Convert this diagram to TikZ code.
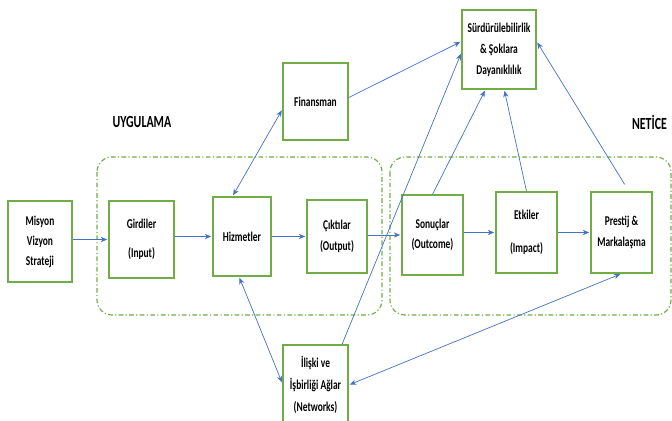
\documentclass[tikz,border=0pt]{standalone}
\usepackage{fontspec}
\setmainfont{Carlito}[FakeStretch=0.7]
\usetikzlibrary{arrows.meta,calc}

\definecolor{kutuyesil}{RGB}{112,173,71}
\definecolor{okmavi}{RGB}{68,114,196}

\tikzset{
  kutu/.style={draw=kutuyesil, line width=1.1pt, fill=white, align=center, inner sep=0pt,
    font=\fontsize{11.5}{17}\selectfont\bfseries},
  ok/.style={draw=okmavi, line width=0.6pt, -{Stealth[length=5.5pt,width=4.5pt]}, shorten >=1pt},
  ciftok/.style={draw=okmavi, line width=0.6pt, {Stealth[length=5.5pt,width=4.5pt]}-{Stealth[length=5.5pt,width=4.5pt]}, shorten >=1pt, shorten <=1pt},
  bolge/.style={draw=kutuyesil, line width=1pt, rounded corners=0.45cm,
    dash pattern=on 4pt off 2pt on 1pt off 2pt},
  baslik/.style={font=\fontsize{14.5}{16}\selectfont\bfseries}
}

\begin{document}
\begin{tikzpicture}[x=0.03cm,y=-0.03cm]
  \useasboundingbox (0,0) rectangle (672,420);

  % Regions
  \draw[bolge] (97,157) rectangle (382,315);
  \draw[bolge] (390,157) rectangle (671,315);
  \node[baslik] (uygulama) at (142,122) {UYGULAMA};
  \node[baslik, anchor=east] (netice) at (671,122) {NETİCE};

  % Boxes
  \node[kutu, minimum width=1.92cm, minimum height=2.43cm] (misyon) at (40,241.5) {Misyon\\Vizyon\\Strateji};
  \node[kutu, minimum width=1.95cm, minimum height=2.31cm] (girdiler) at (141.5,239.5) {Girdiler\\[8pt](Input)};
  \node[kutu, minimum width=1.74cm, minimum height=2.37cm] (hizmet) at (242,236.5) {Hizmetler};
  \node[kutu, minimum width=1.80cm, minimum height=2.19cm] (cikti) at (337,236.5) {Çıktılar\\[1pt](Output)};
  \node[kutu, minimum width=1.83cm, minimum height=2.40cm] (sonuc) at (432.5,235) {Sonuçlar\\(Outcome)};
  \node[kutu, minimum width=1.83cm, minimum height=2.43cm] (etki) at (526.5,232.5) {Etkiler\\[11pt](Impact)};
  \node[kutu, minimum width=1.83cm, minimum height=2.43cm] (prestij) at (621.5,232.5) {Prestij \&\\[1pt]Markalaşma};
  \node[kutu, minimum width=2.22cm, minimum height=2.37cm] (surdur) at (499,49.5) {Sürdürülebilirlik\\[1pt]\& Şoklara\\[1pt]Dayanıklılık};
  \node[kutu, minimum width=1.95cm, minimum height=2.31cm] (finans) at (315.5,101.5) {Finansman};
  \node[kutu, minimum width=1.95cm, minimum height=2.40cm] (iliski) at (315.5,385) {İlişki ve\\[2pt]İşbirliği Ağlar\\[2pt](Networks)};

  % Main flow
  \draw[ok] (misyon.east |- girdiler.west) -- (girdiler.west);
  \draw[ok] (girdiler.east |- hizmet.west) -- (hizmet.west);
  \draw[ok] (hizmet.east) -- (cikti.west);
  \draw[ok] (cikti.east |- sonuc.west) -- (sonuc.west);
  \draw[ok] (sonuc.east |- etki.west) -- (etki.west);
  \draw[ok] (etki.east) -- (prestij.west);

  % Links to the top and bottom boxes
  \draw[ciftok] ($(hizmet.north west)!0.34!(hizmet.north east)$) -- ($(finans.north west)!0.6!(finans.south west)$);
  \draw[ok] ($(finans.north east)!0.45!(finans.south east)$) -- ($(surdur.north west)!0.4!(surdur.south west)$);
  \draw[ok] ($(iliski.north west)!0.9!(iliski.north east)$) -- ($(surdur.north west)!0.54!(surdur.south west)$);
  \draw[ok] (sonuc.north) -- ($(surdur.south west)!0.32!(surdur.south east)$);
  \draw[ok] (etki.north) -- ($(surdur.south west)!0.57!(surdur.south east)$);
  \draw[ok, shorten <=7pt] ($(prestij.north west)!0.62!(prestij.north east)$) -- ($(surdur.north east)!0.4!(surdur.south east)$);
  \draw[ciftok] ($(hizmet.south west)!0.45!(hizmet.south east)$) -- ($(iliski.north west)!0.48!(iliski.south west)$);
  \draw[ciftok] (iliski.east) -- (prestij.south);
\end{tikzpicture}
\end{document}
